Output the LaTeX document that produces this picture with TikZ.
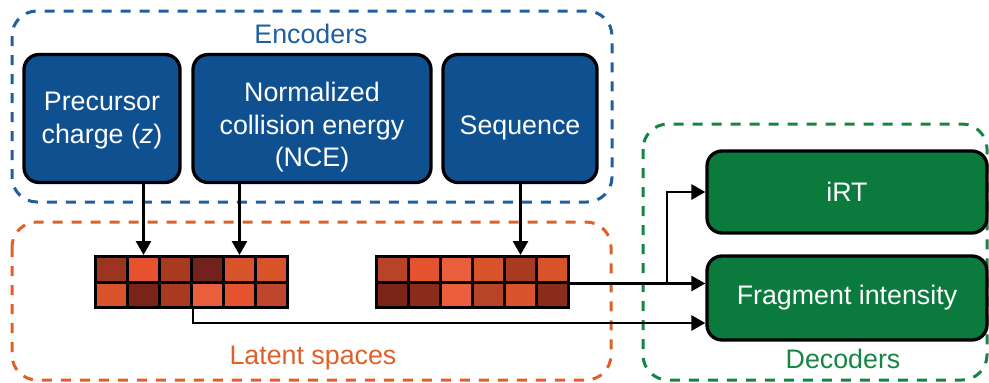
\documentclass[tikz,border=0pt]{standalone}
\usepackage{fontspec}
\setmainfont{Liberation Sans}
\usetikzlibrary{arrows.meta,calc}
\definecolor{encblue}{HTML}{0F5091}
\definecolor{decgreen}{HTML}{0A7A3D}
\definecolor{dblue}{HTML}{1F5F9F}
\definecolor{dorange}{HTML}{E0602A}
\definecolor{dgreen}{HTML}{148545}
\definecolor{cA}{HTML}{9A3520}
\definecolor{cB}{HTML}{E55230}
\definecolor{cC}{HTML}{A83A22}
\definecolor{cD}{HTML}{72221A}
\definecolor{cE}{HTML}{D9532A}
\definecolor{cF}{HTML}{7A2418}
\definecolor{cG}{HTML}{EA5E3C}
\definecolor{cH}{HTML}{C0452A}
\definecolor{cI}{HTML}{B84428}
\definecolor{cJ}{HTML}{8A2C1C}
\begin{document}
\begin{tikzpicture}[x=1pt,y=-1pt,
  font=\fontsize{26.8}{32.5}\selectfont,
  encbox/.style={draw=black,line width=3.3pt,rounded corners=15pt,fill=encblue,minimum height=128pt,inner sep=0pt},
  enctext/.style={text=white,align=center,inner sep=0pt},
  decbox/.style={draw=black,line width=3.3pt,rounded corners=15pt,fill=decgreen,text=white,align=center,minimum width=280pt,inner sep=0pt},
  group/.style={line width=3pt,dash pattern=on 10pt off 9pt,rounded corners=25pt},
  cell/.style={draw=black,line width=3pt,minimum width=32pt,minimum height=25.5pt,inner sep=0pt,anchor=north west},
  arr/.style={line width=2.8pt,-{Triangle[length=14pt,width=15pt]}}]
\useasboundingbox (0,0) rectangle (989,383);
% group frames
\draw[group,draw=dblue] (12,11) rectangle (612,202);
\draw[group,draw=dorange] (12,222) rectangle (611,380);
\draw[group,draw=dgreen] (643,124) rectangle (987,380);
\node[text=dblue] (encl) at (311,34) {Encoders};
\node[text=dorange] (latl) at (313,358) {Latent spaces};
\node[text=dgreen] (decl) at (843,359) {Decoders};
% encoders
\node[encbox,minimum width=156pt,label={[enctext,yshift=-2pt]center:Precursor\\charge (\textit{z})}] (prec) at (102,118.5) {};
\node[encbox,minimum width=238pt,label={[enctext,yshift=-9pt]center:Normalized\\collision energy\\(NCE)}] (nce) at (312,118.5) {};
\node[encbox,minimum width=154pt,label={[enctext,yshift=-9pt]center:Sequence}] (seq) at (520,118.5) {};
% decoders
\node[decbox,minimum height=82pt] (irt) at (847,192) {iRT};
\node[decbox,minimum height=84pt] (frag) at (847,298) {Fragment intensity};
% latent grids
\foreach \c [count=\i] in {cA,cB,cC,cD,cE,cE}
  \node[cell,fill=\c] (L-1-\i) at (94+32*\i-32,255) {};
\foreach \c [count=\i] in {cE,cF,cC,cG,cB,cH}
  \node[cell,fill=\c] (L-2-\i) at (94+32*\i-32,280.5) {};
\foreach \c [count=\i] in {cI,cB,cG,cE,cC,cE}
  \node[cell,fill=\c] (R-1-\i) at (375+32*\i-32,255) {};
\foreach \c [count=\i] in {cF,cJ,cG,cI,cE,cJ}
  \node[cell,fill=\c] (R-2-\i) at (375+32*\i-32,280.5) {};
% encoder -> latent
\draw[arr] (prec.south -| L-1-2.north) -- (L-1-2.north);
\draw[arr] (nce.south -| L-1-5.north) -- (L-1-5.north);
\draw[arr] (seq.south -| R-1-5.north) -- (R-1-5.north);
% latent -> decoders
\coordinate (lstart) at (L-2-3.south east);
\coordinate (lturn) at ($(lstart)+(0,14)$);
\draw[arr] (lstart) -- (lturn) -- (lturn -| frag.west);
\coordinate (rstart) at (R-1-6.south east);
\coordinate (branch) at (667,0);
\draw[arr] (rstart) -- (rstart -| frag.west);
\draw[arr] (rstart -| branch) -- (irt.west -| branch) -- (irt.west);
\end{tikzpicture}
\end{document}
